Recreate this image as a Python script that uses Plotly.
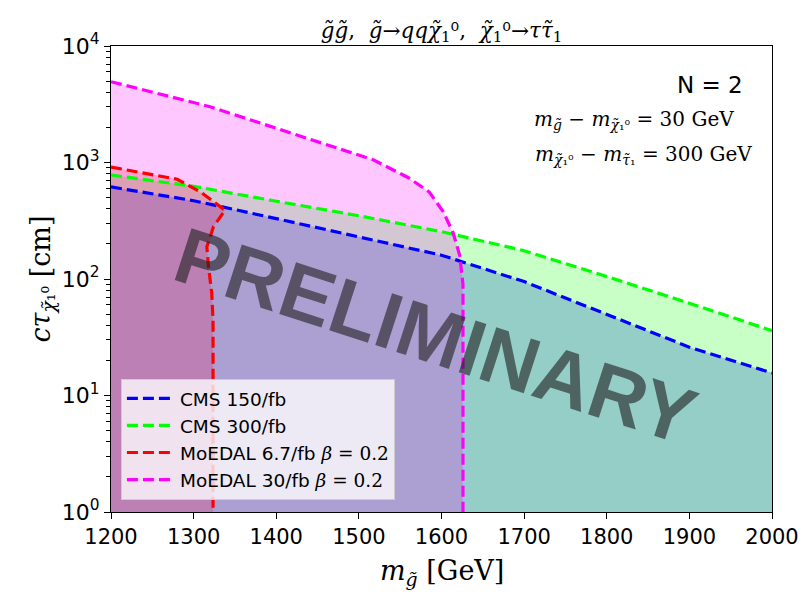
import plotly.graph_objects as go

# ---------------- data ----------------
mass_cms = [1200, 1300, 1400, 1500, 1600, 1700, 1800, 1900, 2000]
ct_cms150 = [617, 470, 330, 230, 160, 95, 50, 26, 15.6]
ct_cms300 = [781, 625, 465, 349, 255, 175, 105, 62, 36]

mass_moedal67 = [1200, 1280, 1308, 1338, 1324, 1316, 1318, 1322, 1323.5, 1323.5]
ct_moedal67 = [914, 718, 561, 389, 281, 189, 128, 75, 44, 1]

mass_moedal30 = [1200, 1320, 1518, 1560, 1585, 1602, 1614, 1622, 1626, 1626]
ct_moedal30 = [4940, 3011, 1050, 740, 560, 380, 250, 160, 90, 1]

x_range = [1200, 2000]
y_min, y_max = 1, 1e4
x_ticks = [1200, 1300, 1400, 1500, 1600, 1700, 1800, 1900, 2000]
y_ticks = [1, 10, 100, 1000, 10000]
y_ticktext = ["10<sup>0</sup>", "10<sup>1</sup>", "10<sup>2</sup>", "10<sup>3</sup>", "10<sup>4</sup>"]

serif = "DejaVu Serif"
Z = "<span style='font-family:DejaVu Sans'>⁰</span>"  # superscript zero

# name, x, y, rgb, fill alpha
series = [
    ("CMS 150/fb", mass_cms, ct_cms150, (0, 0, 255), 0.25),
    ("CMS 300/fb", mass_cms, ct_cms300, (0, 255, 0), 0.22),
    (f"MoEDAL 6.7/fb <span style='font-family:{serif}'><i>β</i> = 0.2</span>",
     mass_moedal67, ct_moedal67, (255, 0, 0), 0.2),
    (f"MoEDAL 30/fb <span style='font-family:{serif}'><i>β</i> = 0.2</span>",
     mass_moedal30, ct_moedal30, (255, 0, 255), 0.22),
]

fig = go.Figure()

# filled regions (alpha-composited)
for name, xs, ys, c, a in series:
    px = list(xs) + [xs[-1], xs[0]]
    py = list(ys) + [y_min, y_min]
    fig.add_trace(go.Scatter(
        x=px, y=py, mode="lines", fill="toself",
        fillcolor=f"rgba({c[0]},{c[1]},{c[2]},{a})",
        line=dict(width=0), hoverinfo="skip", showlegend=False))

# dashed boundary lines
for name, xs, ys, c, a in series:
    fig.add_trace(go.Scatter(
        x=xs, y=ys, mode="lines", name=name,
        line=dict(color=f"rgb({c[0]},{c[1]},{c[2]})", width=3.2, dash="11px,5px")))

fig.update_layout(
    width=812, height=604,
    margin=dict(l=111, r=40, t=46, b=92),
    paper_bgcolor="white", plot_bgcolor="white",
    font=dict(family="DejaVu Sans", color="black"),
    showlegend=True,
    legend=dict(
        x=0.015, y=0.026, xanchor="left", yanchor="bottom",
        bgcolor="rgba(255,255,255,0.78)", bordercolor="rgb(204,204,204)", borderwidth=1,
        font=dict(family="DejaVu Sans", size=18.5, color="black"),
        itemwidth=48, tracegroupgap=0,
    ),
    title=dict(
        text=f"<i>g̃g̃</i>,  <i>g̃</i>→<i>qqχ̃</i><sub>1</sub>{Z},  <i>χ̃</i><sub>1</sub>{Z}→<i>ττ̃</i><sub>1</sub>",
        x=0.5, xref="paper", xanchor="center", y=1 - 30 / 604, yanchor="middle",
        font=dict(family=serif, size=21.5, color="black")),
)

fig.update_xaxes(
    range=x_range, tickmode="array", tickvals=x_ticks,
    showline=True, linecolor="black", linewidth=1.2, mirror=True,
    ticks="outside", ticklen=6, tickwidth=1.2, tickcolor="black",
    showgrid=False, zeroline=False,
    tickfont=dict(family="DejaVu Sans", size=21, color="black"),
)
fig.update_yaxes(
    type="log", range=[0, 4], tickmode="array", tickvals=y_ticks, ticktext=y_ticktext,
    showline=True, linecolor="black", linewidth=1.2, mirror=True,
    ticks="outside", ticklen=6, tickwidth=1.2, tickcolor="black",
    showgrid=False, zeroline=False,
    tickfont=dict(family="DejaVu Sans", size=22, color="black"),
    minor=dict(ticks="outside", ticklen=3.5, tickwidth=1, tickcolor="black", dtick="D1", showgrid=False),
)

annotations = [
    # axis titles
    dict(text="<i>m</i><sub><i>g̃</i></sub> [GeV]", x=0.5, y=-0.129, xref="paper", yref="paper",
         xanchor="center", yanchor="middle", showarrow=False,
         font=dict(family=serif, size=27, color="black")),
    dict(text=f"<i>cτ</i><sub><i>χ̃</i>₁{Z}</sub> [cm]", x=-0.105, y=0.5, xref="paper", yref="paper",
         xanchor="center", yanchor="middle", textangle=-90, showarrow=False,
         font=dict(family=serif, size=27, color="black")),
    # info text
    dict(text="N = 2", x=(745 - 111) / 661, y=(512 - 85) / 466, xref="paper", yref="paper",
         xanchor="right", yanchor="middle", showarrow=False,
         font=dict(family="DejaVu Sans", size=23, color="black")),
    dict(text=f"<i>m</i><sub><i>g̃</i></sub> − <i>m</i><sub><i>χ̃</i>₁{Z}</sub> = 30 GeV",
         x=(736 - 111) / 661, y=(512 - 120) / 466, xref="paper", yref="paper",
         xanchor="right", yanchor="middle", showarrow=False,
         font=dict(family=serif, size=20, color="black")),
    dict(text=f"<i>m</i><sub><i>χ̃</i>₁{Z}</sub> − <i>m</i><sub><i>τ̃</i>₁</sub> = 300 GeV",
         x=(754 - 111) / 661, y=(512 - 155) / 466, xref="paper", yref="paper",
         xanchor="right", yanchor="middle", showarrow=False,
         font=dict(family=serif, size=20, color="black")),
    # watermark
    dict(text="<b>PRELIMINARY</b>", x=(435 - 111) / 661, y=(512 - 336) / 466,
         xref="paper", yref="paper", xanchor="center", yanchor="middle",
         textangle=18, showarrow=False,
         font=dict(family="Liberation Sans", size=79, color="rgba(30,30,30,0.6)")),
]
fig.update_layout(annotations=annotations)

fig.write_html("out.html")
